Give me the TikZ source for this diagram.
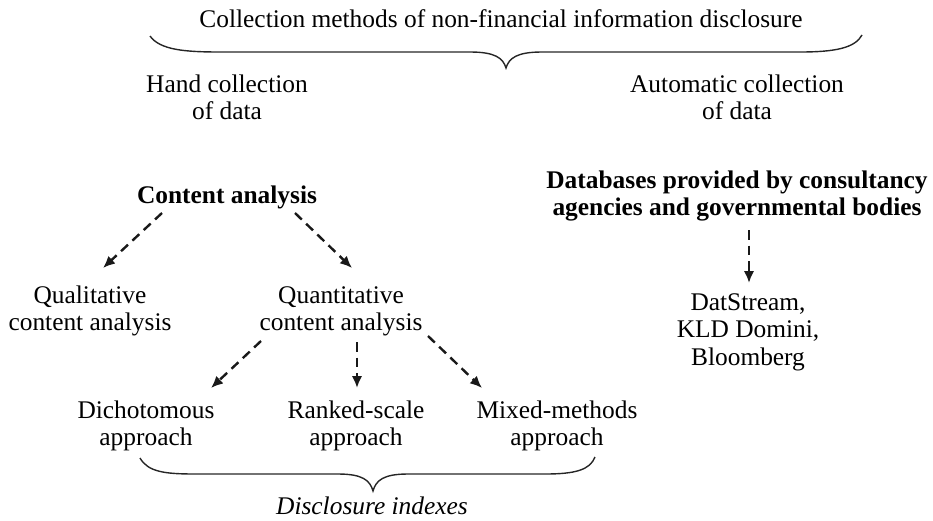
\documentclass[tikz,border=0pt]{standalone}
\usepackage{fontspec}
\setmainfont{Liberation Serif}
\usetikzlibrary{arrows.meta,calc}
\newcommand{\mline}[1]{\begin{tabular}[t]{@{}c@{}}#1\end{tabular}}
\begin{document}
\begin{tikzpicture}[x=1pt,y=-1pt,
  lbl/.style={inner sep=0pt,anchor=base,font=\fontsize{25.4}{27.5}\selectfont},
  bld/.style={lbl,font=\fontsize{25.4}{27.5}\selectfont\bfseries},
  arr/.style={draw=black!90,line width=2.4pt,dash pattern=on 9.5pt off 6pt,-{Latex[length=12pt,width=10.5pt]}},
  brace/.style={draw=black!85,line width=1.4pt}]
\useasboundingbox (0,0) rectangle (933,520);
\node[lbl] (title) at (501,27) {Collection methods of non-financial information disclosure};
\node[lbl] (hand) at (227,92) {\mline{Hand collection\\of data}};
\node[lbl] (auto) at (737,92) {\mline{Automatic collection\\of data}};
\node[bld] (ca) at (227,203) {Content analysis};
\node[bld] (db) at (737,188) {\mline{Databases provided by consultancy\\agencies and governmental bodies}};
\node[lbl] (qual) at (90,303) {\mline{Qualitative\\content analysis}};
\node[lbl] (quant) at (341,303) {\mline{Quantitative\\content analysis}};
\node[lbl] (dat) at (748,310) {\mline{DatStream,\\KLD Domini,\\Bloomberg}};
\node[lbl] (dich) at (146,418) {\mline{Dichotomous\\approach}};
\node[lbl] (rank) at (356,418) {\mline{Ranked-scale\\approach}};
\node[lbl] (mixed) at (557,418) {\mline{Mixed-methods\\approach}};
\node[lbl,font=\fontsize{25.4}{27.5}\selectfont\itshape] (idx) at (372,514) {Disclosure indexes};
% braces
\draw[brace] (150,36) .. controls (160,50) and (185,52) .. (220,52) -- (470,52)
  .. controls (495,52) and (503,58) .. (506,68)
  .. controls (509,58) and (517,52) .. (542,52) -- (800,52)
  .. controls (835,52) and (855,48) .. (862,35);
\draw[brace] (140,458) .. controls (148,472) and (165,474) .. (195,474) -- (338,474)
  .. controls (362,474) and (370,480) .. (373,491)
  .. controls (376,480) and (384,474) .. (408,474) -- (545,474)
  .. controls (575,474) and (590,470) .. (595,457);
% arrows
\draw[arr] ($(ca.base)+(-65,10)$) -- ($(qual.base)+(13,-35)$);
\draw[arr] ($(ca.base)+(68,10)$) -- ($(quant.base)+(11,-35)$);
\draw[arr] ($(quant.base)+(-80,38)$) -- ($(dich.base)+(65,-30)$);
\draw[arr] ($(quant.base)+(16,39)$) -- ($(rank.base)+(1,-30)$);
\draw[arr] ($(quant.base)+(87,33)$) -- ($(mixed.base)+(-75,-30)$);
\draw[arr] ($(db.base)+(12,42)$) -- ($(dat.base)+(1,-27)$);
\end{tikzpicture}
\end{document}
